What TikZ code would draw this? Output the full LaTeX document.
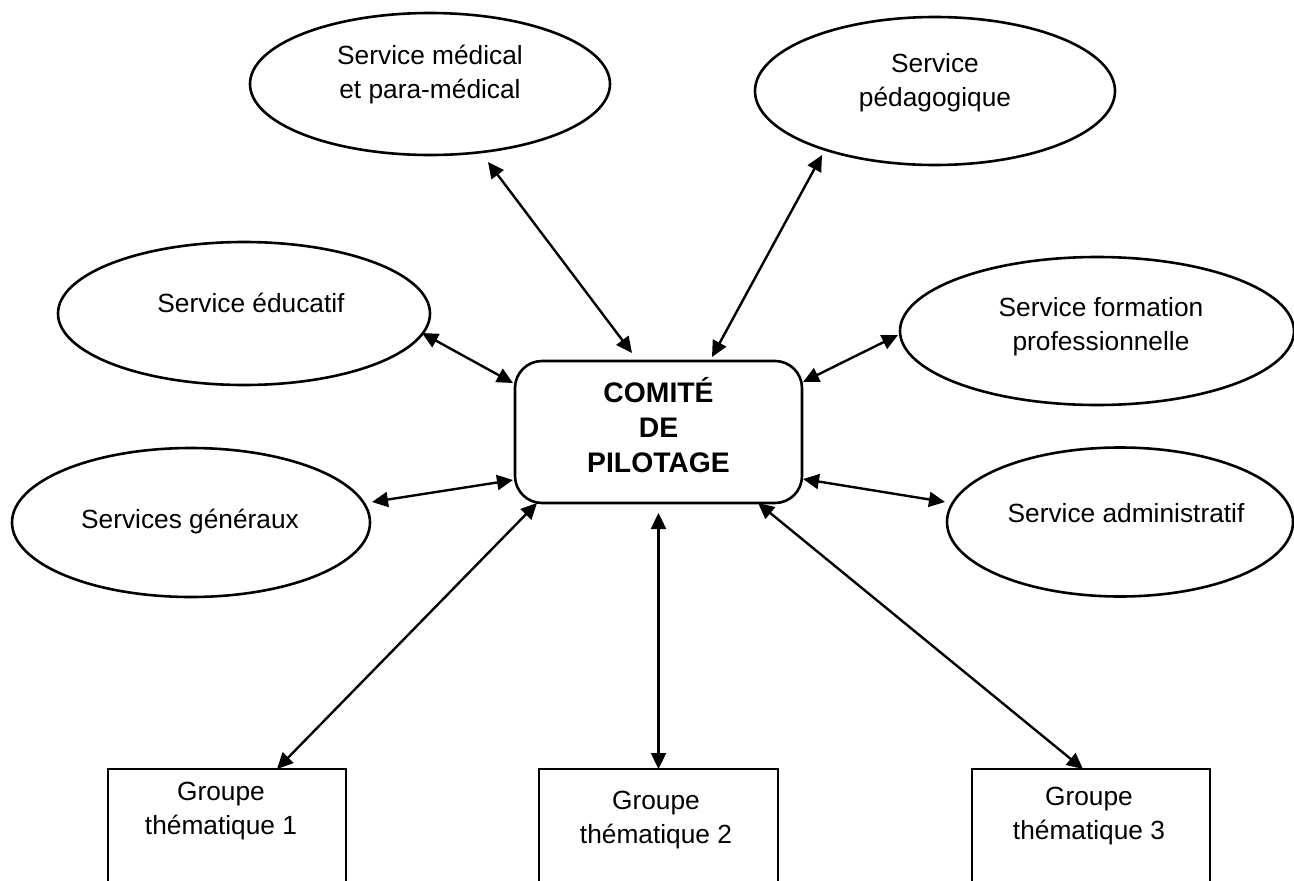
\documentclass[tikz,border=0pt]{standalone}
\usepackage{fontspec}
\setmainfont{Liberation Sans}
\usetikzlibrary{shapes.geometric,arrows.meta}
\tikzset{
  ell/.style={draw, line width=2.6pt, ellipse, inner sep=0pt, outer sep=0pt},
  grp/.style={draw, line width=2.6pt, rectangle, inner sep=0pt, outer sep=0pt, minimum width=238pt, minimum height=131pt},
  pilbox/.style={draw, line width=2.6pt, rectangle, rounded corners=27pt, inner sep=0pt, outer sep=0pt, minimum width=287pt, minimum height=142pt},
  lbl/.style={align=center, font=\fontsize{26.3}{34}\selectfont, inner sep=0pt},
  blbl/.style={align=center, font=\fontsize{28.3}{35}\selectfont\bfseries, inner sep=0pt},
  con/.style={line width=2.4pt, {Triangle[length=16pt,width=15pt]}-{Triangle[length=16pt,width=15pt]}}
}
\begin{document}
\begin{tikzpicture}[x=1pt,y=-1pt]
\useasboundingbox (0,0) rectangle (1294,881);
\clip (0,0) rectangle (1294,881);
% ellipses
\node[ell, minimum width=360pt, minimum height=142pt] (med) at (430,84) {};
\node[lbl] (medt) at (430,75) {Service médical\\et para-médical};
\node[ell, minimum width=360pt, minimum height=148pt] (ped) at (935,91) {};
\node[lbl] (pedt) at (935,82.5) {Service\\pédagogique};
\node[ell, minimum width=372pt, minimum height=143pt] (edu) at (244,313.5) {};
\node[lbl] (edut) at (251,303) {Service éducatif};
\node[ell, minimum width=394pt, minimum height=148pt] (form) at (1097,331) {};
\node[lbl] (formt) at (1101,327) {Service formation\\professionnelle};
\node[ell, minimum width=358pt, minimum height=149pt] (gen) at (191,522.5) {};
\node[lbl] (gent) at (190,522) {Services généraux};
\node[ell, minimum width=346pt, minimum height=149pt] (adm) at (1120,522) {};
\node[lbl] (admt) at (1126,513) {Service administratif};
% center
\node[pilbox] (pil) at (658.5,432) {};
\node[blbl] (pilt) at (658.5,425) {COMITÉ\\DE\\PILOTAGE};
% groups
\node[grp] (g1) at (227,834.5) {};
\node[lbl] (g1t) at (221,811) {Groupe\\thématique 1};
\node[grp, minimum width=239pt] (g2) at (658.5,834.5) {};
\node[lbl] (g2t) at (656,820) {Groupe\\thématique 2};
\node[grp] (g3) at (1091,834.5) {};
\node[lbl] (g3t) at (1089,816.5) {Groupe\\thématique 3};
% connectors
\draw[con] ([shift={(58,7)}]med.south) -- ([shift={(-26.5,-8)}]pil.north);
\draw[con] ([shift={(-113,-10)}]ped.south) -- ([shift={(53.5,-4)}]pil.north);
\draw[con] ([shift={(-8,19.5)}]edu.east) -- ([shift={(-2,-49)}]pil.west);
\draw[con] ([shift={(-2,4)}]form.west) -- ([shift={(1,-50)}]pil.east);
\draw[con] ([shift={(2,-20.5)}]gen.east) -- ([shift={(-2,48)}]pil.west);
\draw[con] ([shift={(-2,-20)}]adm.west) -- ([shift={(1,47)}]pil.east);
\draw[con] ([shift={(50,0)}]g1.north) -- ([shift={(22,0)}]pil.south west);
\draw[con] (g2.north) -- ([shift={(0,10)}]pil.south);
\draw[con] ([shift={(-8,0)}]g3.north) -- ([shift={(-44,0)}]pil.south east);
\end{tikzpicture}
\end{document}
